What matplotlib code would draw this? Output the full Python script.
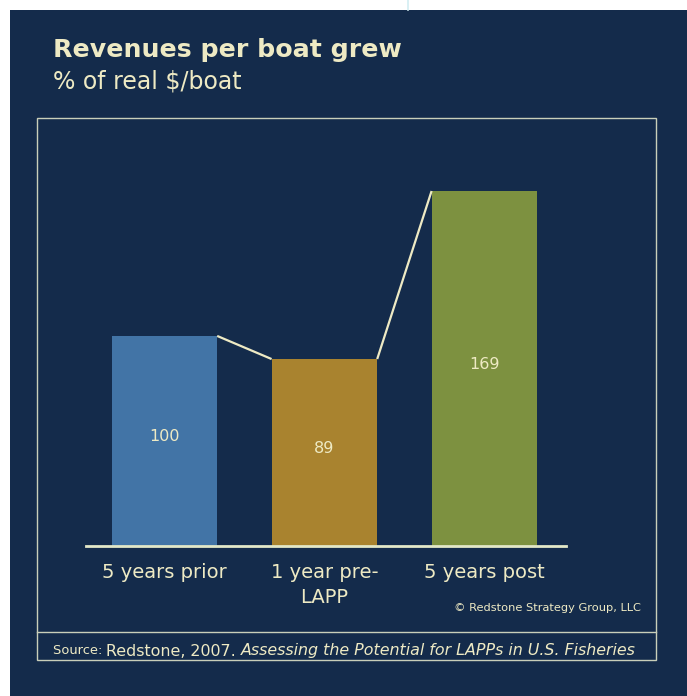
import matplotlib.pyplot as plt
from matplotlib.patches import Rectangle
from matplotlib.lines import Line2D

# Chart data
categories = ['5 years prior', '1 year pre-\nLAPP', '5 years post']
values = [100, 89, 169]
bar_colors = ['#4274a6', '#a9832f', '#7d9140']

NAVY = '#142b4b'
CREAM = '#eeeac4'
W, H = 687, 696

plt.rcParams['font.family'] = ['DejaVu Sans']

fig = plt.figure(figsize=(W / 100, H / 100), dpi=100, facecolor='white')


def fx(px):
    return px / W


def fy(py):
    return 1 - py / H


# dark slide background and the little guide line above it
fig.patches.append(Rectangle((fx(10), 0), 1 - fx(10), fy(10), transform=fig.transFigure,
                             facecolor=NAVY, edgecolor='none', zorder=-5))
fig.add_artist(Line2D([fx(408), fx(408)], [fy(0), fy(10)], transform=fig.transFigure,
                      color='#d3eef2', lw=1.2))

# frame around chart and source strip
fig.patches.append(Rectangle((fx(37), fy(660)), fx(656) - fx(37), fy(118) - fy(660),
                             transform=fig.transFigure, facecolor='none',
                             edgecolor='#c9cfba', lw=1.0, zorder=1))
fig.add_artist(Line2D([fx(37), fx(656)], [fy(632), fy(632)], transform=fig.transFigure,
                      color='#c9cfba', lw=1.0))

# titles
fig.text(fx(53), fy(50), 'Revenues per boat grew', color=CREAM, fontsize=18.2,
         fontweight='bold', va='center', ha='left')
fig.text(fx(53), fy(81), '% of real $/boat', color=CREAM, fontsize=17,
         va='center', ha='left')

# bar chart
ax = fig.add_axes([fx(86), fy(546), fx(566) - fx(86), fy(170) - fy(546)])
ax.set_zorder(2)
ax.set_facecolor('none')
width = 0.66
xs = list(range(len(values)))
ax.bar(xs, values, width=width, color=bar_colors, zorder=2)
ax.set_xlim(-0.49, 2.51)
ax.set_ylim(0, 179)

for x, v in zip(xs, values):
    ax.text(x, v / 2 + 2, str(v), color=CREAM, fontsize=11.5, ha='center', va='center')

# connectors between bar tops
for i in range(len(values) - 1):
    ax.plot([xs[i] + width / 2, xs[i + 1] - width / 2], [values[i], values[i + 1]],
            color=CREAM, lw=1.6, zorder=3, solid_capstyle='butt')

for side in ['left', 'right', 'top']:
    ax.spines[side].set_visible(False)
ax.spines['bottom'].set_color('#e3e8c8')
ax.spines['bottom'].set_linewidth(2)
ax.set_yticks([])
ax.set_xticks(xs)
ax.set_xticklabels(categories, color=CREAM, fontsize=14, linespacing=1.45)
ax.tick_params(axis='x', length=0, pad=12)
for lbl in ax.get_xticklabels():
    lbl.set_va('top')

fig.text(fx(641), fy(608), '\u00a9 Redstone Strategy Group, LLC', color=CREAM,
         fontsize=8.2, ha='right', va='center')

# source line, pieces laid out left to right
renderer = fig.canvas.get_renderer()
parts = [('Source: ', 9.4, 'normal'), ('Redstone, 2007. ', 11.45, 'normal'),
         ('Assessing the Potential for LAPPs in U.S. Fisheries', 11.45, 'italic')]
x0 = fx(53)
for txt, size, style in parts:
    t = fig.text(x0, fy(651), txt, color=CREAM, fontsize=size, style=style,
                 ha='left', va='center')
    bb = t.get_window_extent(renderer=renderer)
    x0 += bb.width / W

fig.savefig('out.png', dpi=100, facecolor='white')
